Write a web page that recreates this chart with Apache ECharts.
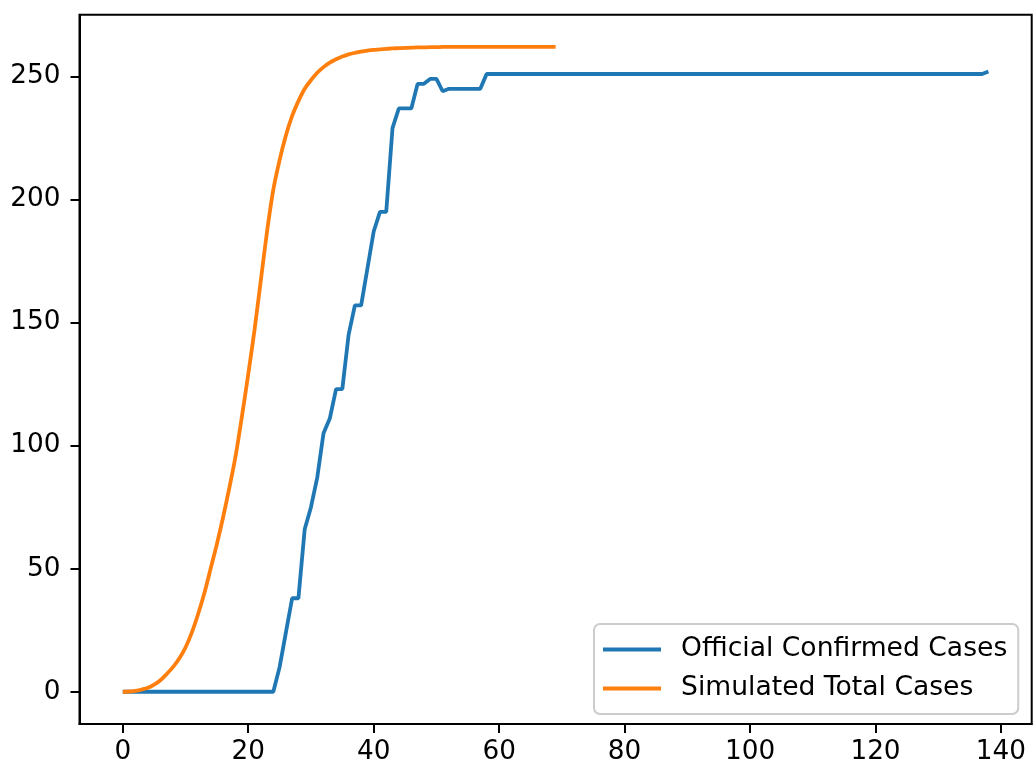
<!DOCTYPE html>
<html>
<head>
<meta charset="utf-8">
<script src="https://cdn.jsdelivr.net/npm/echarts@6/dist/echarts.min.js"></script>
<style>
html,body{margin:0;padding:0;background:#fff;}
#chart{width:1034px;height:771px;}
</style>
</head>
<body>
<div id="chart"></div>
<script>
// Official confirmed cases, one value per day starting at day 0
var officialCases = [
  0,0,0,0,0,0,0,0,0,0,
  0,0,0,0,0,0,0,0,0,0,
  0,0,0,0,0,10,24,38,38,66,
  75,87,105,111,123,123,145,157,157,172,
  187,195,195,229,237,237,237,247,247,249,
  249,244,245,245,245,245,245,245,251,251,
  251,251,251,251,251,251,251,251,251,251,
  251,251,251,251,251,251,251,251,251,251,
  251,251,251,251,251,251,251,251,251,251,
  251,251,251,251,251,251,251,251,251,251,
  251,251,251,251,251,251,251,251,251,251,
  251,251,251,251,251,251,251,251,251,251,
  251,251,251,251,251,251,251,251,251,251,
  251,251,251,251,251,251,251,251,252
];
// Simulated total cases, one value per day starting at day 0
var simulatedCases = [
  0,0.1,0.4,0.9,1.6,2.9,4.7,7.2,10,13.5,
  18,24,31.5,40,50,60,71,83,96,112,
  129,147,167,187,204,216,226,234,240,245,
  248.5,251.5,253.8,255.6,257,258.1,259,259.6,260.1,260.5,
  260.8,261,261.2,261.4,261.5,261.6,261.7,261.8,261.8,261.9,
  261.9,262,262,262,262,262,262,262,262,262,
  262,262,262,262,262,262,262,262,262,262
];
var xTicks = [0,20,40,60,80,100,120,140];
var yTicks = [0,50,100,150,200,250];
var seriesNames = ['Official Confirmed Cases','Simulated Total Cases'];

function toPairs(arr){ return arr.map(function(v,i){ return [i,v]; }); }

var font = 'DejaVu Sans';
var chart = echarts.init(document.getElementById('chart'), null, {renderer:'canvas'});
chart.setOption({
  animation:false,
  backgroundColor:'#ffffff',
  grid:{left:79.5, right:2.3, top:14.7, bottom:47, show:true, borderColor:'#000', borderWidth:2, backgroundColor:'transparent'},
  xAxis:{
    type:'value', min:-6.9, max:144.9,
    splitLine:{show:false},
    axisLine:{show:true, onZero:false, lineStyle:{color:'#000', width:2}},
    axisTick:{show:true, customValues:xTicks, length:9, lineStyle:{color:'#000', width:2}},
    axisLabel:{customValues:xTicks, margin:15, color:'#000', fontSize:26.3, fontFamily:font}
  },
  yAxis:{
    type:'value', min:-13.1, max:275.1,
    splitLine:{show:false},
    axisLine:{show:true, onZero:false, lineStyle:{color:'#000', width:2}},
    axisTick:{show:true, customValues:yTicks, length:9, lineStyle:{color:'#000', width:2}},
    axisLabel:{customValues:yTicks, margin:19, color:'#000', fontSize:26.3, fontFamily:font}
  },
  legend:{
    orient:'vertical', left:594, top:624,
    padding:[12,11,12,9],
    itemGap:12,
    itemWidth:58, itemHeight:4, icon:'rect',
    borderColor:'#cccccc', borderWidth:2, borderRadius:6,
    backgroundColor:'rgba(255,255,255,0.8)',
    textStyle:{color:'#000', fontSize:26.6, fontFamily:font, padding:[0,0,0,15]},
    data:seriesNames
  },
  series:[
    {name:seriesNames[0], type:'line', data:toPairs(officialCases), showSymbol:false, symbol:'none',
     lineStyle:{color:'#1f77b4', width:3.8}, itemStyle:{color:'#1f77b4'}, z:2},
    {name:seriesNames[1], type:'line', data:toPairs(simulatedCases), showSymbol:false, symbol:'none',
     smooth:0.3,
     lineStyle:{color:'#ff7f0e', width:3.8}, itemStyle:{color:'#ff7f0e'}, z:3}
  ]
});
</script>
</body>
</html>
